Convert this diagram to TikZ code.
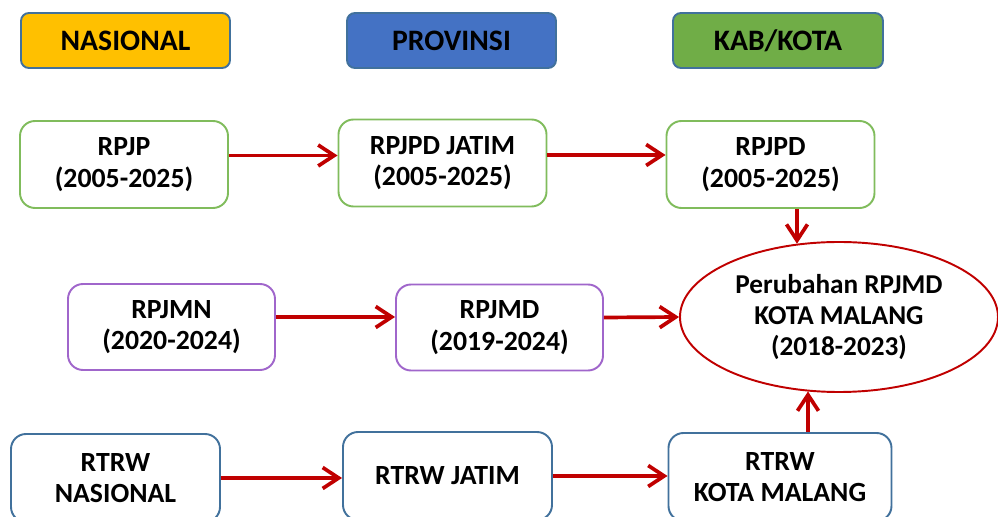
\documentclass[tikz,border=0pt]{standalone}
\usepackage{fontspec}
\setmainfont{Carlito}
\usetikzlibrary{arrows.meta,shapes.geometric}
\definecolor{kuning}{HTML}{FFC000}
\definecolor{biru}{HTML}{4472C4}
\definecolor{hijau}{HTML}{70AD47}
\definecolor{tepi}{HTML}{41719C}
\definecolor{hijaumuda}{HTML}{80BC5C}
\definecolor{ungu}{HTML}{A066CB}
\definecolor{merah}{HTML}{C00000}
\tikzset{
  hdr/.style={draw=tepi, line width=1.1pt, rounded corners=0.16cm, minimum width=4.18cm, minimum height=1.1cm,
    inner sep=0pt, font=\fontsize{16.9}{18}\selectfont\bfseries},
  pbox/.style={draw=#1, fill=white, line width=1.1pt, rounded corners=0.3cm, minimum width=4.16cm, minimum height=1.74cm,
    inner sep=0pt, align=center, font=\fontsize{15.8}{18}\selectfont\bfseries},
  arr/.style={draw=merah, line width=2.1pt, -{Straight Barb[length=3.2mm,width=4.2mm]}}
}
\begin{document}
\begin{tikzpicture}
            \useasboundingbox (0,0) rectangle (19.96,-10.34);

            % kepala kolom
            \node[hdr, fill=kuning] (nasional) at (2.51,-0.81) {NASIONAL};
            \node[hdr, fill=biru] (provinsi) at (9.03,-0.81) {PROVINSI};
            \node[hdr, fill=hijau, minimum width=4.2cm] (kabkota) at (15.56,-0.81) {KAB/KOTA};

            % baris RPJP
            \node[pbox=hijaumuda] (rpjp) at (2.48,-3.29) {RPJP\\(2005-2025)};
            \node[pbox=hijaumuda] (rpjpdjatim) at (8.85,-3.26) {RPJPD JATIM\\ (2005-2025)};
            \node[pbox=hijaumuda] (rpjpd) at (15.41,-3.29) {RPJPD\\(2005-2025)};

            % baris RPJM
            \node[pbox=ungu, minimum width=4.14cm, minimum height=1.72cm] (rpjmn) at (3.43,-6.54) {RPJMN\\(2020-2024)};
            \node[pbox=ungu, minimum width=4.14cm, minimum height=1.72cm] (rpjmd) at (9.99,-6.55) {RPJMD\\(2019-2024)};
            \node[ellipse, draw=merah, fill=white, line width=1.1pt, minimum width=6.36cm, minimum height=3.0cm, inner sep=0pt,
              align=center, font=\fontsize{15.5}{17.6}\selectfont\bfseries] (rpjmdmalang) at (16.78,-6.34)
              {Perubahan RPJMD\\KOTA MALANG\\(2018-2023)};

            % baris RTRW
            \node[pbox=tepi, minimum width=4.18cm, minimum height=1.76cm] (rtrwnas) at (2.31,-9.56) {RTRW\\NASIONAL};
            \node[pbox=tepi, minimum width=4.18cm, minimum height=1.76cm] (rtrwjatim) at (8.95,-9.52) {RTRW JATIM};
            \node[pbox=tepi, minimum width=4.46cm, minimum height=1.76cm] (rtrwmalang) at (15.6,-9.54) {RTRW\\KOTA MALANG};

            % panah
            \draw[arr] ([yshift=0.18cm]rpjp.east) -- ([yshift=0.18cm]rpjp.east -| rpjpdjatim.west);
            \draw[arr] ([yshift=0.16cm]rpjpdjatim.east) -- ([yshift=0.16cm]rpjpdjatim.east -| rpjpd.west);
            \draw[arr] ([yshift=0.2cm]rpjmn.east) -- ([yshift=0.2cm]rpjmn.east -| rpjmd.west);
            \draw[arr] ([yshift=0.2cm]rpjmd.east) -- (rpjmdmalang.west);
            \draw[arr] (rtrwnas.east) -- (rtrwnas.east -| rtrwjatim.west);
            \draw[arr] (rtrwjatim.east) -- (rtrwjatim.east -| rtrwmalang.west);
            \coordinate (atas) at ([xshift=0.53cm]rpjpd.south);
            \coordinate (bawah) at ([xshift=0.56cm]rtrwmalang.north);
            \draw[arr] (atas) -- (atas |- rpjmdmalang.120);
            \draw[arr] (bawah) -- (bawah |- rpjmdmalang.247);
\end{tikzpicture}
\end{document}
